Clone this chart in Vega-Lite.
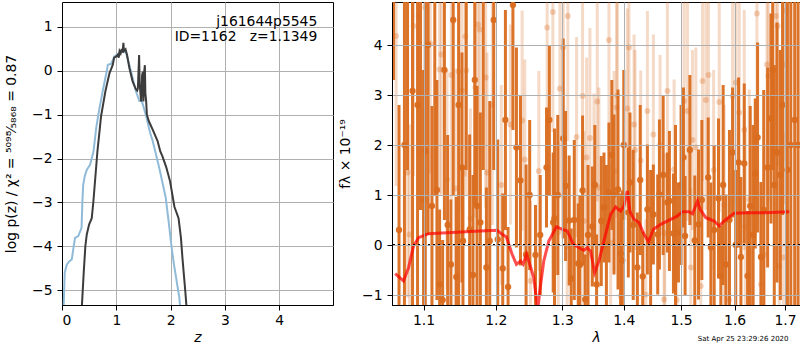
{
  "$schema": "https://vega.github.io/schema/vega-lite/v6.json",
  "autosize": {"type": "pad"},
  "padding": {"left": 4, "top": 1, "right": 0, "bottom": 0},
  "spacing": 4,
  "title": {"text": "Sat Apr 25 23:29:26 2020", "orient": "bottom", "anchor": "end", "fontSize": 7, "fontWeight": "normal", "font": "DejaVu Sans", "color": "black", "offset": -10, "dx": -13},
  "config": {
    "font": "DejaVu Sans",
    "view": {"stroke": "black", "strokeWidth": 1},
    "axis": {"labelFont": "DejaVu Sans", "labelFontSize": 13.9, "labelColor": "black", "titleFont": "DejaVu Sans", "titleFontSize": 13.9, "titleFontWeight": "normal", "titleColor": "black", "domainColor": "black", "tickColor": "black", "tickSize": 5, "labelPadding": 3, "gridColor": "#b0b0b0", "gridWidth": 1, "gridOpacity": 1},
    "axisY": {"labelPadding": 5}
  },
  "datasets": {
    "pzBlue": [
      {"z":0.03,"lp":-5.4},{"z":0.05,"lp":-4.6},{"z":0.087,"lp":-4.42},{"z":0.13,"lp":-4.35},{"z":0.18,"lp":-4.3},{"z":0.21,"lp":-4.05},{"z":0.24,"lp":-3.81},{"z":0.30,"lp":-3.77},{"z":0.36,"lp":-3.58},{"z":0.375,"lp":-3.0},{"z":0.39,"lp":-2.6},{"z":0.42,"lp":-2.4},{"z":0.456,"lp":-2.26},{"z":0.517,"lp":-2.14},{"z":0.58,"lp":-1.84},{"z":0.63,"lp":-1.3},{"z":0.68,"lp":-0.92},{"z":0.75,"lp":-0.46},{"z":0.83,"lp":0.03},{"z":0.844,"lp":0.14},{"z":0.905,"lp":0.16},{"z":0.966,"lp":0.33},{"z":1.06,"lp":0.41},{"z":1.13,"lp":0.46},{"z":1.18,"lp":0.41},{"z":1.27,"lp":-0.01},{"z":1.36,"lp":-0.46},{"z":1.425,"lp":-0.69},{"z":1.47,"lp":-0.69},{"z":1.55,"lp":-1.03},{"z":1.62,"lp":-1.4},{"z":1.67,"lp":-1.6},{"z":1.79,"lp":-2.21},{"z":1.91,"lp":-2.89},{"z":1.96,"lp":-3.4},{"z":2.02,"lp":-4.04},{"z":2.06,"lp":-4.4},{"z":2.10,"lp":-4.71},{"z":2.16,"lp":-5.17},{"z":2.19,"lp":-5.6}
    ],
    "pzDark": [
      {"z":0.36,"lp":-5.5},{"z":0.40,"lp":-4.6},{"z":0.43,"lp":-4.0},{"z":0.456,"lp":-3.73},{"z":0.50,"lp":-3.5},{"z":0.548,"lp":-3.36},{"z":0.578,"lp":-2.98},{"z":0.652,"lp":-1.84},{"z":0.72,"lp":-1.03},{"z":0.80,"lp":-0.46},{"z":0.875,"lp":-0.05},{"z":0.936,"lp":0.14},{"z":0.96,"lp":0.3},{"z":1.0,"lp":0.33},{"z":1.03,"lp":0.37},{"z":1.045,"lp":0.3},{"z":1.06,"lp":0.45},{"z":1.08,"lp":0.4},{"z":1.10,"lp":0.5},{"z":1.115,"lp":0.42},{"z":1.131,"lp":0.64},{"z":1.14,"lp":0.45},{"z":1.17,"lp":0.49},{"z":1.2,"lp":0.35},{"z":1.24,"lp":0.07},{"z":1.30,"lp":-0.24},{"z":1.36,"lp":-0.42},{"z":1.385,"lp":-0.45},{"z":1.397,"lp":-0.40},{"z":1.42,"lp":0.36},{"z":1.43,"lp":-0.3},{"z":1.457,"lp":-0.70},{"z":1.475,"lp":-0.1},{"z":1.489,"lp":-0.02},{"z":1.50,"lp":-0.70},{"z":1.515,"lp":0.0},{"z":1.526,"lp":0.13},{"z":1.535,"lp":-0.5},{"z":1.55,"lp":-0.70},{"z":1.563,"lp":-1.0},{"z":1.60,"lp":-1.15},{"z":1.67,"lp":-1.34},{"z":1.76,"lp":-1.60},{"z":1.81,"lp":-1.84},{"z":1.85,"lp":-1.95},{"z":1.92,"lp":-2.2},{"z":1.99,"lp":-2.52},{"z":2.07,"lp":-3.1},{"z":2.146,"lp":-3.36},{"z":2.19,"lp":-3.81},{"z":2.22,"lp":-4.3},{"z":2.27,"lp":-5.02},{"z":2.30,"lp":-5.5}
    ],
    "dark": [
      {"w":1.061,"f":6.0,"e":2.7},{"w":1.068,"f":0.3,"e":2.5},{"w":1.075,"f":2.0,"e":3.5},{"w":1.079,"f":5.5,"e":4.0},{"w":1.0855,"f":3.08,"e":4.5},{"w":1.0921,"f":2.80,"e":4.2},{"w":1.096,"f":5.2,"e":4.5},{"w":1.1,"f":0.90,"e":2.6},{"w":1.1023,"f":1.88,"e":3.2},{"w":1.106,"f":4.0,"e":3.8},{"w":1.1112,"f":0.78,"e":2.0},{"w":1.115,"f":5.0,"e":4.0},{"w":1.1179,"f":1.10,"e":2.2},{"w":1.1215,"f":-0.79,"e":1.5},{"w":1.1256,"f":-1.10,"e":1.2},{"w":1.128,"f":3.5,"e":3.0},{"w":1.1324,"f":0.40,"e":1.8},{"w":1.1369,"f":-0.39,"e":1.3},{"w":1.14,"f":4.5,"e":3.5},{"w":1.1443,"f":-0.64,"e":1.6},{"w":1.1475,"f":2.80,"e":4.0},{"w":1.1521,"f":1.55,"e":2.3},{"w":1.1535,"f":0.08,"e":1.5},{"w":1.158,"f":5.5,"e":4.0},{"w":1.1628,"f":0.31,"e":1.9},{"w":1.1675,"f":-0.60,"e":2.0},{"w":1.17,"f":3.3,"e":2.5},{"w":1.1732,"f":0.78,"e":2.4},{"w":1.1779,"f":0.45,"e":2.2},{"w":1.182,"f":5.0,"e":3.5},{"w":1.1865,"f":-0.45,"e":1.6},{"w":1.1913,"f":0.08,"e":2.8},{"w":1.197,"f":4.5,"e":3.0},{"w":1.2028,"f":0.11,"e":2.0},{"w":1.2101,"f":-0.47,"e":1.5},{"w":1.214,"f":2.5,"e":2.2},{"w":1.2179,"f":-0.84,"e":1.2},{"w":1.225,"f":4.8,"e":2.5},{"w":1.2302,"f":1.95,"e":2.0},{"w":1.2362,"f":1.29,"e":1.7},{"w":1.2446,"f":-0.19,"e":1.8},{"w":1.25,"f":1.0,"e":1.5},{"w":1.2588,"f":-0.20,"e":1.0},{"w":1.266,"f":0.2,"e":1.2},{"w":1.2756,"f":1.55,"e":1.2},{"w":1.28,"f":2.5,"e":1.5},{"w":1.2859,"f":0.45,"e":1.4},{"w":1.2879,"f":0.53,"e":1.8},{"w":1.293,"f":1.0,"e":1.6},{"w":1.3015,"f":2.13,"e":2.0},{"w":1.3052,"f":1.18,"e":1.5},{"w":1.3109,"f":0.49,"e":1.3},{"w":1.3141,"f":-0.67,"e":1.0},{"w":1.319,"f":0.5,"e":1.6},{"w":1.3253,"f":-0.37,"e":1.2},{"w":1.3279,"f":-0.40,"e":1.4},{"w":1.3322,"f":1.09,"e":1.5},{"w":1.3365,"f":-1.09,"e":0.9},{"w":1.341,"f":0.2,"e":1.4},{"w":1.3479,"f":0.37,"e":1.2},{"w":1.352,"f":1.2,"e":1.2},{"w":1.3549,"f":-0.79,"e":1.0},{"w":1.3626,"f":0.48,"e":1.3},{"w":1.367,"f":0.75,"e":1.1},{"w":1.371,"f":0.0,"e":1.6},{"w":1.3752,"f":1.05,"e":1.4},{"w":1.38,"f":1.8,"e":1.5},{"w":1.3836,"f":1.01,"e":1.6},{"w":1.3903,"f":1.11,"e":2.0},{"w":1.3947,"f":-0.17,"e":1.2},{"w":1.3975,"f":-0.31,"e":1.4},{"w":1.4,"f":2.0,"e":1.5},{"w":1.4077,"f":0.65,"e":1.3},{"w":1.4105,"f":1.25,"e":1.4},{"w":1.416,"f":0.4,"e":1.5},{"w":1.4231,"f":-0.45,"e":1.1},{"w":1.428,"f":1.3,"e":1.5},{"w":1.4323,"f":-0.63,"e":0.9},{"w":1.4404,"f":0.71,"e":1.3},{"w":1.446,"f":0.1,"e":1.4},{"w":1.4508,"f":0.61,"e":1.0},{"w":1.4584,"f":0.21,"e":1.2},{"w":1.4614,"f":1.01,"e":1.5},{"w":1.468,"f":1.4,"e":1.6},{"w":1.4755,"f":0.85,"e":1.0},{"w":1.4791,"f":0.88,"e":1.4},{"w":1.4863,"f":0.23,"e":1.2},{"w":1.49,"f":0.6,"e":1.8},{"w":1.4953,"f":0.25,"e":1.0},{"w":1.5,"f":1.2,"e":1.6},{"w":1.5043,"f":1.75,"e":1.4},{"w":1.5073,"f":0.18,"e":1.2},{"w":1.516,"f":1.9,"e":1.5},{"w":1.525,"f":0.09,"e":1.3},{"w":1.5318,"f":0.41,"e":1.5},{"w":1.538,"f":0.9,"e":1.6},{"w":1.5498,"f":1.35,"e":1.2},{"w":1.5548,"f":-0.05,"e":1.3},{"w":1.561,"f":0.3,"e":1.7},{"w":1.5692,"f":0.93,"e":1.6},{"w":1.5736,"f":-0.62,"e":1.0},{"w":1.578,"f":1.2,"e":2.0},{"w":1.5832,"f":-0.39,"e":1.4},{"w":1.59,"f":0.5,"e":1.8},{"w":1.596,"f":1.85,"e":1.3},{"w":1.602,"f":0.0,"e":1.5},{"w":1.6076,"f":1.65,"e":1.7},{"w":1.6121,"f":-0.24,"e":1.6},{"w":1.6186,"f":1.63,"e":1.6},{"w":1.6251,"f":-0.62,"e":1.3},{"w":1.6303,"f":0.78,"e":2.0},{"w":1.636,"f":0.2,"e":2.2},{"w":1.6402,"f":1.43,"e":1.5},{"w":1.6448,"f":2.15,"e":1.9},{"w":1.6515,"f":-0.24,"e":1.5},{"w":1.657,"f":0.7,"e":2.4},{"w":1.6648,"f":1.55,"e":2.0},{"w":1.6715,"f":2.53,"e":2.1},{"w":1.675,"f":3.5,"e":2.0},{"w":1.6782,"f":1.20,"e":2.4},{"w":1.6837,"f":1.85,"e":2.6},{"w":1.6905,"f":1.40,"e":2.5},{"w":1.695,"f":2.8,"e":2.2},{"w":1.705,"f":1.5,"e":3.5},{"w":1.712,"f":2.0,"e":5.0},{"w":1.72,"f":2.5,"e":5.0},{"w":1.727,"f":2.0,"e":5.0}
    ],
    "light": [
      {"w":1.0643,"f":4.18,"e":3.0},{"w":1.079,"f":1.45,"e":2.5},{"w":1.0816,"f":0.21,"e":2.2},{"w":1.0868,"f":4.38,"e":3.0},{"w":1.0934,"f":4.58,"e":2.8},{"w":1.1023,"f":4.75,"e":3.0},{"w":1.1089,"f":4.03,"e":2.6},{"w":1.1215,"f":3.51,"e":2.5},{"w":1.1238,"f":3.81,"e":2.8},{"w":1.1315,"f":1.31,"e":2.2},{"w":1.1374,"f":3.40,"e":2.5},{"w":1.1429,"f":1.13,"e":2.4},{"w":1.1475,"f":3.47,"e":2.6},{"w":1.1521,"f":3.09,"e":2.4},{"w":1.1568,"f":4.17,"e":2.8},{"w":1.1582,"f":3.49,"e":2.5},{"w":1.1638,"f":0.53,"e":2.2},{"w":1.1708,"f":3.15,"e":2.6},{"w":1.1746,"f":4.41,"e":2.5},{"w":1.177,"f":4.31,"e":2.8},{"w":1.1855,"f":3.35,"e":2.6},{"w":1.1874,"f":1.45,"e":2.4},{"w":1.195,"f":2.8,"e":2.4},{"w":1.208,"f":1.2,"e":2.0},{"w":1.2213,"f":2.41,"e":2.0},{"w":1.2387,"f":2.49,"e":2.2},{"w":1.2427,"f":1.71,"e":2.0},{"w":1.2512,"f":-0.72,"e":1.6},{"w":1.2638,"f":1.48,"e":2.0},{"w":1.2766,"f":4.35,"e":2.0},{"w":1.2854,"f":4.66,"e":2.4},{"w":1.2937,"f":0.26,"e":1.8},{"w":1.2963,"f":3.13,"e":2.2},{"w":1.3015,"f":3.95,"e":2.2},{"w":1.3078,"f":-0.02,"e":1.5},{"w":1.3088,"f":4.58,"e":2.5},{"w":1.3226,"f":2.16,"e":2.0},{"w":1.3322,"f":2.98,"e":2.2},{"w":1.3344,"f":0.48,"e":1.8},{"w":1.3387,"f":1.75,"e":2.0},{"w":1.3441,"f":2.14,"e":2.2},{"w":1.3506,"f":1.23,"e":1.8},{"w":1.356,"f":2.87,"e":2.0},{"w":1.3587,"f":1.15,"e":2.0},{"w":1.3752,"f":4.10,"e":2.2},{"w":1.378,"f":0.05,"e":1.6},{"w":1.3836,"f":1.48,"e":2.0},{"w":1.388,"f":2.75,"e":2.2},{"w":1.3891,"f":2.99,"e":2.0},{"w":1.3947,"f":-1.02,"e":1.5},{"w":1.406,"f":2.73,"e":2.0},{"w":1.4088,"f":3.95,"e":2.2},{"w":1.4174,"f":2.41,"e":1.8},{"w":1.4191,"f":1.9,"e":2.0},{"w":1.4288,"f":1.69,"e":1.8},{"w":1.4375,"f":-0.99,"e":1.5},{"w":1.4404,"f":2.68,"e":2.0},{"w":1.4508,"f":2.21,"e":2.0},{"w":1.4625,"f":2.0,"e":1.8},{"w":1.4696,"f":-1.09,"e":1.4},{"w":1.4708,"f":0.23,"e":1.6},{"w":1.4755,"f":3.08,"e":2.0},{"w":1.4875,"f":1.51,"e":1.8},{"w":1.4922,"f":-1.10,"e":1.5},{"w":1.5055,"f":2.88,"e":2.0},{"w":1.5116,"f":2.68,"e":2.2},{"w":1.5177,"f":-0.45,"e":1.6},{"w":1.5207,"f":2.10,"e":1.8},{"w":1.5269,"f":1.95,"e":2.0},{"w":1.5361,"f":-0.82,"e":1.5},{"w":1.5392,"f":3.28,"e":2.0},{"w":1.5454,"f":2.90,"e":2.2},{"w":1.5504,"f":3.40,"e":2.0},{"w":1.56,"f":1.5,"e":2.0},{"w":1.5705,"f":2.86,"e":2.2},{"w":1.58,"f":0.8,"e":2.0},{"w":1.5895,"f":-1.10,"e":1.6},{"w":1.596,"f":2.98,"e":2.2},{"w":1.6024,"f":3.25,"e":2.4},{"w":1.6088,"f":2.65,"e":2.2},{"w":1.6186,"f":2.30,"e":2.4},{"w":1.6206,"f":0.37,"e":2.0},{"w":1.6284,"f":0.91,"e":2.2},{"w":1.6435,"f":4.63,"e":2.6},{"w":1.6515,"f":-0.79,"e":2.0},{"w":1.6581,"f":-0.19,"e":2.2},{"w":1.6635,"f":3.61,"e":2.6},{"w":1.6662,"f":3.38,"e":2.5},{"w":1.6816,"f":4.58,"e":2.8},{"w":1.685,"f":4.38,"e":2.8},{"w":1.6883,"f":-0.42,"e":2.4},{"w":1.6966,"f":-0.25,"e":2.5},{"w":1.6986,"f":3.61,"e":2.8},{"w":1.702,"f":4.69,"e":3.0}
    ],
    "model": [
      {"w":1.0631,"f":-0.574},{"w":1.0738,"f":-0.72},{"w":1.0803,"f":-0.454},{"w":1.0868,"f":-0.02},{"w":1.0934,"f":0.146},{"w":1.1067,"f":0.226},{"w":1.1315,"f":0.246},{"w":1.1779,"f":0.28},{"w":1.2019,"f":0.294},{"w":1.2092,"f":0.214},{"w":1.2155,"f":0.16},{"w":1.2238,"f":-0.186},{"w":1.2302,"f":-0.386},{"w":1.2362,"f":-0.32},{"w":1.2402,"f":-0.386},{"w":1.2452,"f":-0.186},{"w":1.2501,"f":-0.386},{"w":1.2562,"f":-0.654},{"w":1.2622,"f":-1.3},{"w":1.2653,"f":-0.92},{"w":1.2714,"f":-0.32},{"w":1.2791,"f":0.08},{"w":1.291,"f":0.366},{"w":1.3,"f":0.314},{"w":1.3078,"f":0.28},{"w":1.3174,"f":0.014},{"w":1.3279,"f":-0.066},{"w":1.3343,"f":-0.106},{"w":1.3398,"f":-0.054},{"w":1.3451,"f":-0.12},{"w":1.3517,"f":-0.554},{"w":1.3587,"f":-0.32},{"w":1.3669,"f":0.08},{"w":1.378,"f":0.614},{"w":1.3863,"f":0.76},{"w":1.3947,"f":0.68},{"w":1.4003,"f":0.78},{"w":1.4061,"f":1.08},{"w":1.4105,"f":0.666},{"w":1.4173,"f":0.514},{"w":1.4259,"f":0.446},{"w":1.4345,"f":0.214},{"w":1.4422,"f":0.066},{"w":1.4509,"f":0.314},{"w":1.4637,"f":0.414},{"w":1.4815,"f":0.514},{"w":1.4935,"f":0.58},{"w":1.5026,"f":0.666},{"w":1.5146,"f":0.666},{"w":1.5208,"f":0.626},{"w":1.53,"f":0.88},{"w":1.5348,"f":0.714},{"w":1.5454,"f":0.546},{"w":1.561,"f":0.48},{"w":1.5704,"f":0.38},{"w":1.5799,"f":0.48},{"w":1.5991,"f":0.634},{"w":1.6252,"f":0.646},{"w":1.6581,"f":0.646},{"w":1.7089,"f":0.666}
    ]
  },
  "hconcat": [
    {
      "width": 271,
      "height": 303,
      "layer": [
        {
          "data": {"name": "pzBlue"},
          "mark": {"type": "line", "color": "#8fbbd9", "strokeWidth": 2, "clip": true},
          "encoding": {
            "x": {"field": "z", "type": "quantitative", "scale": {"domain": [0, 4.99], "nice": false, "zero": false}, "axis": {"values": [0, 1, 2, 3, 4], "format": "d", "title": "z", "titleFontStyle": "italic", "titlePadding": 4}},
            "y": {"field": "lp", "type": "quantitative", "scale": {"domain": [-5.34, 1.57], "nice": false, "zero": false}, "axis": {"values": [-5, -4, -3, -2, -1, 0, 1], "format": "d", "title": "log p(z) / χ² = ⁵⁰⁹⁸⁄₅₈₆₈ = 0.87", "titlePadding": 13}}
          }
        },
        {
          "data": {"name": "pzDark"},
          "mark": {"type": "line", "color": "#3c3c3c", "strokeWidth": 2, "clip": true},
          "encoding": {
            "x": {"field": "z", "type": "quantitative"},
            "y": {"field": "lp", "type": "quantitative"}
          }
        },
        {
          "data": {"values": [{}]},
          "mark": {"type": "text", "align": "right", "baseline": "middle", "fontSize": 13.9, "font": "DejaVu Sans", "color": "black"},
          "encoding": {"x": {"datum": 4.7}, "y": {"datum": 1.11}, "text": {"value": "j161644p5545"}}
        },
        {
          "data": {"values": [{}]},
          "mark": {"type": "text", "align": "right", "baseline": "middle", "fontSize": 13.9, "font": "DejaVu Sans", "color": "black"},
          "encoding": {"x": {"datum": 4.7}, "y": {"datum": 0.77}, "text": {"value": "ID=1162\u00a0\u00a0\u00a0z=1.1349"}}
        }
      ]
    },
    {
      "width": 408,
      "height": 303,
      "layer": [
        {
          "data": {"name": "light"},
          "mark": {"type": "errorbar", "thickness": 3, "color": "#d96b1e", "opacity": 0.25, "clip": true},
          "encoding": {
            "x": {"field": "w", "type": "quantitative", "scale": {"type": "log", "domain": [1.059, 1.731], "nice": false, "zero": false}, "axis": {"values": [1.1, 1.2, 1.3, 1.4, 1.5, 1.6, 1.7], "format": ".1f", "title": "λ", "titleFontStyle": "italic", "titlePadding": 4, "zindex": 1}},
            "y": {"field": "f", "type": "quantitative", "scale": {"domain": [-1.2, 4.86], "nice": false, "zero": false}, "title": "fλ × 10⁻¹⁹", "axis": {"values": [-1, 0, 1, 2, 3, 4], "format": "d", "title": "fλ × 10⁻¹⁹", "titlePadding": 9, "zindex": 1}},
            "yError": {"field": "e"}
          }
        },
        {
          "data": {"name": "light"},
          "mark": {"type": "circle", "size": 34, "color": "#d96b1e", "opacity": 0.3, "clip": true},
          "encoding": {"x": {"field": "w", "type": "quantitative"}, "y": {"field": "f", "type": "quantitative", "title": "fλ × 10⁻¹⁹"}}
        },
        {
          "data": {"name": "dark"},
          "mark": {"type": "errorbar", "thickness": 3, "color": "#d96b1e", "opacity": 0.95, "clip": true},
          "encoding": {"x": {"field": "w", "type": "quantitative"}, "y": {"field": "f", "type": "quantitative", "title": "fλ × 10⁻¹⁹"}, "yError": {"field": "e"}}
        },
        {
          "data": {"name": "dark"},
          "mark": {"type": "circle", "size": 40, "color": "#d96b1e", "opacity": 0.95, "clip": true},
          "encoding": {"x": {"field": "w", "type": "quantitative"}, "y": {"field": "f", "type": "quantitative", "title": "fλ × 10⁻¹⁹"}}
        },
        {
          "data": {"name": "model"},
          "mark": {"type": "line", "color": "red", "opacity": 0.7, "strokeWidth": 3, "clip": true},
          "encoding": {"x": {"field": "w", "type": "quantitative"}, "y": {"field": "f", "type": "quantitative", "title": "fλ × 10⁻¹⁹"}}
        },
        {
          "data": {"values": [{}]},
          "mark": {"type": "rule", "color": "black", "strokeDash": [2, 3], "strokeWidth": 2},
          "encoding": {"y": {"datum": 0}}
        }
      ]
    }
  ]
}
